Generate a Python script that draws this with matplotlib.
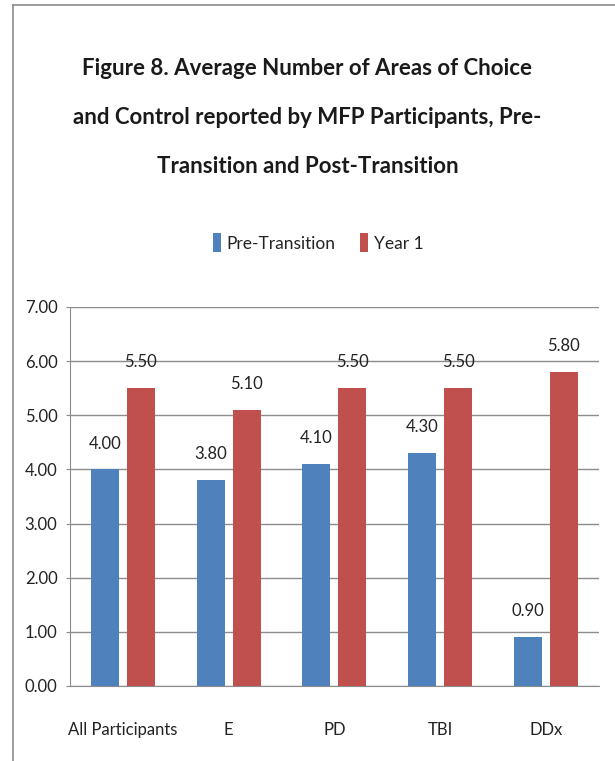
import matplotlib.pyplot as plt
import matplotlib.lines as mlines
import numpy as np

plt.rcParams['font.family'] = ['Lato', 'DejaVu Sans']

# Données
categories = ["All Participants", "E", "PD", "TBI", "DDx"]
pre_transition = [4.00, 3.80, 4.10, 4.30, 0.90]
year_1 = [5.50, 5.10, 5.50, 5.50, 5.80]
series_names = ["Pre-Transition", "Year 1"]
y_ticks = [0, 1, 2, 3, 4, 5, 6, 7]
title_lines = ["Figure 8. Average Number of Areas of Choice",
               "and Control reported by MFP Participants, Pre-",
               "Transition and Post-Transition"]

blue = "#4F81BD"
red = "#C0504D"
grid_col = "#8C8C8C"
txt_col = "#222222"

fig = plt.figure(figsize=(6.15, 7.61), dpi=100)
ax = fig.add_axes([0.1138, 0.0986, 0.860, 0.498])

x = np.arange(len(categories))
w = 0.265
off = 0.17
b1 = ax.bar(x - off, pre_transition, w, color=blue, zorder=3, label=series_names[0])
b2 = ax.bar(x + off, year_1, w, color=red, zorder=3, label=series_names[1])

# étiquettes de valeurs
for bars, vals in [(b1, pre_transition), (b2, year_1)]:
    for rect, v in zip(bars, vals):
        ax.annotate(f"{v:.2f}", (rect.get_x() + rect.get_width() / 2, v),
                    xytext=(0, 15), textcoords="offset points",
                    ha="center", va="baseline", fontsize=12, color=txt_col)

ax.set_xlim(-0.5, len(categories) - 0.5)
ax.set_ylim(0, 7)
ax.set_yticks(y_ticks)
ax.set_yticklabels([f"{t:.2f}" for t in y_ticks], fontsize=12, color=txt_col)
ax.set_xticks(x)
ax.set_xticklabels(categories, fontsize=12, color=txt_col)
ax.tick_params(axis="x", length=0, pad=26)
ax.tick_params(axis="y", length=3, color=grid_col, pad=6)
ax.yaxis.grid(True, color=grid_col, linewidth=1, zorder=0)
for s in ["top", "right"]:
    ax.spines[s].set_visible(False)
for s in ["left", "bottom"]:
    ax.spines[s].set_color(grid_col)

# légende
h, l = ax.get_legend_handles_labels()
fig.legend(h, l, loc="center", bbox_to_anchor=(0.517, 0.681), ncol=2, frameon=False,
           fontsize=12.5, handlelength=0.5, handleheight=1.3, handletextpad=0.3,
           columnspacing=1.4, labelcolor=txt_col)

# titre
for i, line in enumerate(title_lines):
    fig.text(0.5, 1 - (75 + 49 * i) / 761, line, ha="center", va="baseline",
             fontsize=16, fontweight="bold", color="#1a1a1a")

# cadre
fig.add_artist(mlines.Line2D([13 / 615, 13 / 615], [0, 1 - 5 / 761],
                             transform=fig.transFigure, color="#8c8c8c", lw=1.2))
fig.add_artist(mlines.Line2D([13 / 615, 1], [1 - 5 / 761, 1 - 5 / 761],
                             transform=fig.transFigure, color="#8c8c8c", lw=1.2))

fig.savefig("out.png", dpi=100)
